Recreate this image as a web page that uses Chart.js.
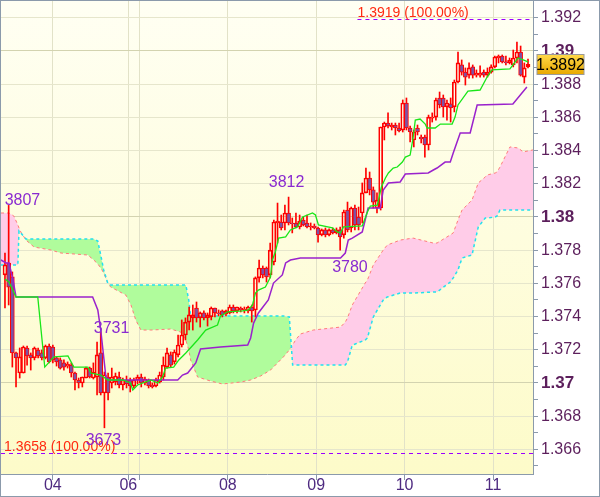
<!DOCTYPE html>
<html>
<head>
<meta charset="utf-8">
<script src="https://cdn.jsdelivr.net/npm/chart.js@4.4.1/dist/chart.umd.min.js"></script>
<style>
html, body { margin: 0; padding: 0; background: #fff; }
canvas { display: block; }
</style>
</head>
<body>
<canvas id="c" width="600" height="497"></canvas>
<script>
// hourly candles, index 0..142
var candleOpen = [1.37651,1.37723,1.37639,1.37181,1.3706,1.3706,1.37211,1.37169,1.37151,1.37199,
  1.37181,1.37151,1.37223,1.37217,1.37151,1.37139,1.37121,1.37102,1.37108,1.3706,
  1.37018,1.37,1.3703,1.3709,1.3703,1.37036,1.37181,1.3694,1.37036,1.37,
  1.37006,1.37036,1.36988,1.37018,1.37018,1.36982,1.37018,1.37036,1.37,1.37018,
  1.36988,1.36982,1.37006,1.37036,1.37096,1.37169,1.37127,1.37169,1.37229,1.37289,
  1.37367,1.37392,1.37452,1.37392,1.37422,1.37392,1.37398,1.37452,1.37422,1.37434,
  1.37416,1.37422,1.37458,1.37434,1.37452,1.3744,1.37434,1.37458,1.3744,1.37633,
  1.37693,1.37693,1.37651,1.37729,1.37964,1.3797,1.37964,1.38024,1.37964,1.37964,
  1.3794,1.37982,1.37964,1.3794,1.37946,1.37934,1.37892,1.37922,1.37892,1.37922,
  1.37904,1.37922,1.37892,1.38042,1.37934,1.38054,1.38,1.38024,1.38145,1.38235,
  1.38163,1.38054,1.38054,1.38542,1.38566,1.38542,1.38554,1.38536,1.38524,1.38687,
  1.38536,1.38464,1.38536,1.38482,1.38482,1.38434,1.38596,1.38602,1.38717,1.38717,
  1.38663,1.38681,1.38663,1.38813,1.38916,1.38873,1.38855,1.38904,1.38855,1.38855,
  1.38873,1.38855,1.38873,1.38904,1.38958,1.3897,1.38934,1.38928,1.38916,1.38958,
  1.38994,1.38843,1.38904];
var candleHigh = [1.37783,1.3807,1.37669,1.37187,1.37211,1.37223,1.37223,1.37181,1.37217,1.37211,
  1.37199,1.37229,1.37235,1.37229,1.37157,1.37151,1.37139,1.37127,1.37121,1.37066,
  1.3703,1.37036,1.37096,1.37096,1.37121,1.37247,1.3731,1.37066,1.3706,1.3709,
  1.3706,1.37066,1.3703,1.37042,1.3703,1.3703,1.37048,1.37054,1.37036,1.37024,
  1.37,1.3703,1.37066,1.37157,1.37211,1.37187,1.37199,1.37289,1.3738,1.37392,
  1.37458,1.3747,1.37488,1.37428,1.37434,1.37422,1.37458,1.37452,1.3744,1.3744,
  1.3744,1.3747,1.3747,1.37458,1.37458,1.37458,1.37464,1.3747,1.37639,1.37741,
  1.37705,1.37699,1.37843,1.37982,1.38084,1.38012,1.38072,1.3812,1.37994,1.38024,
  1.38012,1.38,1.38012,1.37964,1.37958,1.3794,1.37928,1.37934,1.37928,1.37934,
  1.37934,1.3794,1.38042,1.3809,1.3806,1.38072,1.3806,1.38205,1.38295,1.38271,
  1.38181,1.38145,1.38542,1.38572,1.38627,1.38566,1.38566,1.38566,1.38705,1.38717,
  1.38548,1.38524,1.38554,1.38494,1.38494,1.38614,1.38627,1.38717,1.38753,1.38735,
  1.38705,1.38717,1.38825,1.38994,1.38946,1.38898,1.38928,1.38916,1.38886,1.3891,
  1.38886,1.38898,1.38916,1.3897,1.38976,1.38976,1.3897,1.38958,1.39006,1.39054,
  1.3903,1.38928,1.38952];
var candleLow = [1.37452,1.3747,1.37096,1.36976,1.3703,1.3706,1.37108,1.37078,1.37139,1.37151,
  1.37139,1.37145,1.37121,1.37121,1.37102,1.37084,1.37078,1.3709,1.37036,1.36958,
  1.3697,1.36976,1.3703,1.3703,1.37024,1.36928,1.36928,1.3673,1.36898,1.3697,
  1.36988,1.3697,1.36958,1.3697,1.36946,1.3697,1.36994,1.36976,1.36988,1.3697,
  1.3697,1.36976,1.37,1.37018,1.3709,1.37096,1.37114,1.37157,1.37217,1.37259,
  1.37319,1.37319,1.37367,1.37337,1.3738,1.37343,1.3738,1.37398,1.37404,1.37398,
  1.37404,1.37416,1.37422,1.37422,1.37428,1.37422,1.37422,1.37367,1.37398,1.37608,
  1.37633,1.37608,1.37633,1.37711,1.37843,1.37922,1.37922,1.37952,1.37904,1.37934,
  1.37928,1.37946,1.37934,1.37922,1.37928,1.37849,1.37886,1.3788,1.37886,1.37898,
  1.37898,1.378,1.37873,1.3791,1.3791,1.37922,1.37922,1.37964,1.38145,1.38133,
  1.38054,1.38024,1.38042,1.38464,1.38536,1.38524,1.38494,1.38512,1.38512,1.38524,
  1.38452,1.38422,1.38494,1.38446,1.38361,1.38404,1.38572,1.38584,1.38657,1.38602,
  1.38584,1.38572,1.38633,1.38807,1.38855,1.38795,1.38837,1.38837,1.38843,1.38843,
  1.38843,1.38843,1.38867,1.38898,1.38928,1.38928,1.38916,1.38922,1.38904,1.38928,
  1.38849,1.38807,1.38898];
var candleClose = [1.37711,1.37578,1.37181,1.37151,1.37157,1.37217,1.37163,1.37151,1.37211,1.37163,
  1.37151,1.37223,1.37127,1.37139,1.37127,1.3709,1.37096,1.37114,1.3706,1.37018,
  1.37,1.37036,1.3709,1.37036,1.37066,1.37169,1.3694,1.37048,1.3694,1.37036,
  1.37042,1.36988,1.37018,1.36994,1.36982,1.37018,1.37036,1.37,1.37024,1.36982,
  1.36976,1.37018,1.37048,1.37108,1.37181,1.37108,1.37187,1.37229,1.37289,1.37367,
  1.3741,1.3741,1.37392,1.37422,1.37392,1.3741,1.37452,1.37422,1.37416,1.3741,
  1.37434,1.37458,1.37434,1.37458,1.3744,1.37446,1.37458,1.37434,1.37633,1.37693,
  1.37651,1.37639,1.378,1.3797,1.37976,1.37934,1.38024,1.37964,1.37958,1.3794,
  1.37976,1.37952,1.3794,1.37946,1.37934,1.37892,1.37922,1.37892,1.37922,1.37904,
  1.37922,1.3788,1.3803,1.37922,1.38054,1.37952,1.37952,1.38145,1.38235,1.38163,
  1.3809,1.38102,1.38542,1.38566,1.38548,1.38554,1.38536,1.38518,1.38687,1.38536,
  1.38512,1.38512,1.38512,1.3847,1.38434,1.38602,1.38602,1.38705,1.38675,1.38663,
  1.38687,1.38657,1.38813,1.38928,1.38873,1.38843,1.38898,1.38855,1.38867,1.38867,
  1.38855,1.38873,1.38904,1.38964,1.3897,1.38934,1.38928,1.38946,1.38958,1.38994,
  1.38855,1.38898,1.3892];

// tenkan (green) and kijun (purple), positions in candle index units
var tenkanX = [0,1.1,3.0,8.9,10.8,13.3,17.1,18.7,22.5,23.3,26.0,27.9,32.0,34.1,34.7,36.0,39.6,41.5,42.8,43.6,
  45.8,47.2,49.1,52.3,54.5,57.7,58.5,60.4,64.5,66.1,67.2,68.0,68.8,70.7,72.1,72.6,73.4,74.3,76.2,77.5,
  79.4,80.8,83.5,84.3,85.1,88.9,90.2,91.1,91.9,97.0,98.4,99.2,101.1,102.2,103.3,104.1,105.4,106.5,107.9,108.7,
  110.0,110.8,111.4,112.7,114.1,114.6,116.8,118.2,121.4,122.2,123.0,125.7,129.0,130.9,132.2,137.1,137.9,139.3,140.7,142.0];
var tenkanY = [1.37627,1.37608,1.37518,1.37518,1.37096,1.37157,1.37163,1.37096,1.37096,1.3706,1.37048,1.37018,1.37018,1.37,1.36958,1.36988,1.37018,1.37,1.37036,1.3709,
  1.37096,1.37139,1.37181,1.37259,1.37319,1.37349,1.37404,1.37428,1.37434,1.3744,1.3747,1.37542,1.3756,1.37578,1.37639,1.37741,1.37789,1.37873,1.3788,1.37922,
  1.3794,1.38,1.38024,1.38012,1.37952,1.37934,1.3791,1.37904,1.3794,1.37946,1.3803,1.38066,1.38072,1.38181,1.38235,1.38265,1.38295,1.38301,1.38331,1.38361,
  1.38373,1.38476,1.38584,1.3859,1.3856,1.38536,1.38536,1.3856,1.3856,1.38602,1.38675,1.38759,1.38765,1.38843,1.38886,1.38892,1.38916,1.38958,1.38946,1.38934];
var kijunX = [-1.1,0.3,1.1,2.2,3.0,23.8,25.2,26.0,27.4,28.2,46.9,48.2,49.6,51.8,53.1,58.5,65.9,66.7,67.5,68.8,
  71.5,72.9,75.3,76.2,77.5,80.2,91.1,92.4,93.2,94.3,97.0,98.6,101.9,102.7,104.1,107.3,108.7,114.9,116.3,117.3,
  119.5,120.9,121.7,123.6,126.3,128.2,137.9,141.7];
var kijunY = [1.37741,1.37723,1.37723,1.3762,1.37518,1.37518,1.3744,1.37319,1.37036,1.37018,1.37018,1.37048,1.3706,1.37121,1.37205,1.37217,1.37229,1.37271,1.37361,1.37422,
  1.375,1.37602,1.37651,1.37723,1.37741,1.37753,1.37753,1.37783,1.37861,1.37873,1.3791,1.38054,1.38054,1.38163,1.38205,1.38211,1.38259,1.38265,1.38283,1.38295,
  1.38331,1.38331,1.38386,1.38506,1.38506,1.38675,1.38681,1.38783];

// cloud: span A (red dashed) and span B (cyan dashed)
var cloudX = [-1.08,1.1,2.4,3.5,3.8,4.3,5.7,7.9,12.5,15.2,22.5,24.1,25.2,26.0,26.8,27.9,28.7,32.8,34.2,35.5,
  36.9,39.6,45.0,47.7,49.1,49.9,50.4,52.3,55.8,59.1,64.0,66.7,69.4,72.1,75.6,77.2,78.1,78.9,80.2,83.7,
  91.1,92.4,93.0,94.3,95.1,97.8,98.4,100.0,102.7,103.8,107.3,110.8,116.3,117.3,120.9,121.7,123.0,124.1,126.8,128.5,
  130.4,130.9,133.1,133.6,134.4,137.1,139.3,140.7,143.36];
var spanA = [1.38024,1.38024,1.38006,1.37952,1.37934,1.3791,1.37861,1.37819,1.37801,1.37783,1.37771,1.37741,1.37717,1.37693,1.37663,1.37602,1.37578,1.3753,1.3747,1.3738,
  1.37319,1.37319,1.37325,1.37307,1.37259,1.37199,1.37139,1.37036,1.37012,1.36994,1.37006,1.37018,1.37042,1.37078,1.37157,1.37199,1.37229,1.37259,1.37295,1.37319,
  1.37337,1.37367,1.37392,1.3747,1.375,1.37602,1.3762,1.37711,1.37801,1.37831,1.37861,1.37873,1.37843,1.37843,1.37892,1.37904,1.37982,1.38042,1.38102,1.38205,
  1.38241,1.38253,1.38265,1.38271,1.38301,1.38422,1.38416,1.38392,1.38404];
var spanB = [1.37711,1.37711,1.37711,1.37711,1.37916,1.37904,1.37867,1.37867,1.37867,1.37867,1.37867,1.37867,1.37855,1.37771,1.37681,1.37602,1.3759,1.3759,1.3759,1.3759,
  1.3759,1.3759,1.3759,1.3759,1.3759,1.375,1.37404,1.37404,1.37404,1.37404,1.37404,1.37404,1.37404,1.37404,1.37404,1.37398,1.37108,1.37108,1.37108,1.37108,
  1.37108,1.37108,1.37127,1.37229,1.37235,1.37259,1.37271,1.37398,1.375,1.37518,1.37542,1.37542,1.37548,1.37548,1.37608,1.37633,1.37681,1.37753,1.37771,1.3794,
  1.37994,1.37994,1.38,1.38006,1.38042,1.38042,1.38042,1.38042,1.38042];

// swing labels
var markIdx = [1, 77, 26, 91, 27];
var markVal = [1.3807, 1.3812, 1.3731, 1.3780, 1.3673];
var markText = ['3807', '3812', '3731', '3780', '3673'];

// projection levels
var levelVal = [1.3919, 1.3658];
var levelFrom = [95.7, -1.08];
var levelText = ['1.3919 (100.00%)', '1.3658 (100.00%)'];

// axes
var xTickPos = [13, 33.5, 36.5, 60.5, 84.5, 108.5, 132.5];
var xTickLabels = ['04', '06', '', '08', '09', '10', '11'];
var yTickVals = [1.365,1.366,1.367,1.368,1.369,1.370,1.371,1.372,1.373,1.374,1.375,1.376,1.377,1.378,1.379,
  1.380,1.381,1.382,1.383,1.384,1.385,1.386,1.387,1.388,1.389,1.390,1.391,1.392];
var xMin = -1.08, xMax = 143.36, yMin = 1.364518, yMax = 1.393012;

Chart.defaults.font.family = '"Liberation Sans", Arial, sans-serif';

var bodies = candleOpen.map(function(o, i) { return {x: i, y: [o, candleClose[i]]}; });
var upWicks = candleOpen.map(function(o, i) { return {x: i, y: [Math.max(o, candleClose[i]), candleHigh[i]]}; });
var downWicks = candleOpen.map(function(o, i) { return {x: i, y: [candleLow[i], Math.min(o, candleClose[i])]}; });
function pts(xs, ys) { return xs.map(function(x, i) { return {x: x, y: ys[i]}; }); }
function milli(c) { return (c && c.tick) ? Math.round(c.tick.value * 1000) : 1; }

var bgPlugin = {
  id: 'bg',
  beforeDraw: function(chart) {
    var c = chart.ctx, a = chart.chartArea;
    c.save();
    c.fillStyle = '#ffffff';
    c.fillRect(0, 0, chart.width, chart.height);
    var g = c.createLinearGradient(0, a.top, 0, a.bottom);
    g.addColorStop(0, '#fffff3');
    g.addColorStop(1, '#fdfbc9');
    c.fillStyle = g;
    c.fillRect(a.left, a.top, a.right - a.left, a.bottom - a.top);
    c.restore();
  },
  afterDraw: function(chart) {
    var c = chart.ctx;
    c.save();
    c.strokeStyle = '#8b9aab';
    c.lineWidth = 1;
    c.strokeRect(0.5, 0.5, chart.width - 1, chart.height - 1);
    c.restore();
  }
};

var levelPlugin = {
  id: 'levels',
  afterDatasetsDraw: function(chart) {
    var c = chart.ctx, a = chart.chartArea, xs = chart.scales.x, ys = chart.scales.y;
    c.save();
    for (var i = 0; i < levelVal.length; i++) {
      var y = Math.round(ys.getPixelForValue(levelVal[i])) + 0.5;
      var x0 = Math.max(a.left, xs.getPixelForValue(levelFrom[i]));
      c.strokeStyle = '#9b00ff';
      c.lineWidth = 1;
      c.setLineDash([4, 4]);
      c.beginPath(); c.moveTo(x0, y); c.lineTo(a.right, y); c.stroke();
      c.setLineDash([]);
      c.fillStyle = '#ff2a10';
      c.font = '14px "Liberation Sans", Arial, sans-serif';
      c.textAlign = 'left';
      c.textBaseline = 'alphabetic';
      c.fillText(levelText[i], Math.max(x0, a.left + 3), y - 3);
    }
    // swing labels
    var style = [
      {dx: -4, dy: 0, align: 'left'},
      {dx: -2, dy: -10, align: 'center'},
      {dx: -7, dy: 1, align: 'left'},
      {dx: -8, dy: 22, align: 'left'},
      {dx: -1, dy: 17, align: 'center'}
    ];
    c.font = '16px "Liberation Sans", Arial, sans-serif';
    c.fillStyle = '#8a2bd0';
    for (var k = 0; k < markIdx.length; k++) {
      var px = xs.getPixelForValue(markIdx[k]), py = ys.getPixelForValue(markVal[k]);
      c.textAlign = style[k].align;
      c.fillText(markText[k], px + style[k].dx, py + style[k].dy);
    }
    c.restore();
  }
};

var pricePlugin = {
  id: 'price',
  afterDraw: function(chart) {
    var c = chart.ctx, a = chart.chartArea, ys = chart.scales.y;
    var last = candleClose[candleClose.length - 1];
    var y = ys.getPixelForValue(last);
    var x = a.right + 4, w = 47, h = 20, top = Math.round(y - h / 2) + 0.5;
    c.save();
    var g = c.createLinearGradient(0, top, 0, top + h);
    g.addColorStop(0, '#ffd84a');
    g.addColorStop(1, '#e8a800');
    c.fillStyle = g;
    c.fillRect(x, top, w, h);
    c.strokeStyle = '#9a9a9a';
    c.lineWidth = 1;
    c.strokeRect(x, top, w, h);
    c.fillStyle = '#000';
    c.font = '16px "Liberation Sans", Arial, sans-serif';
    c.textAlign = 'center';
    c.textBaseline = 'middle';
    c.fillText(last.toFixed(4), x + w / 2, top + h / 2 + 1);
    c.restore();
  }
};

new Chart(document.getElementById('c'), {
  type: 'bar',
  data: {
    datasets: [
      {
        type: 'line', data: pts(cloudX, spanA), order: 10,
        borderColor: '#ff7b7b', borderWidth: 1, borderDash: [3, 3], pointRadius: 0, tension: 0,
        fill: {target: '+1', above: '#ffcce8', below: '#b0fc9c'}
      },
      {
        type: 'line', data: pts(cloudX, spanB), order: 9,
        borderColor: '#22e0f0', borderWidth: 1.5, borderDash: [3, 3], pointRadius: 0, tension: 0, fill: false
      },
      {
        data: upWicks, order: 6, grouped: false, barThickness: 1,
        backgroundColor: '#ff0000', borderWidth: 0
      },
      {
        data: downWicks, order: 6, grouped: false, barThickness: 1,
        backgroundColor: '#ff0000', borderWidth: 0
      },
      {
        data: bodies, order: 5, grouped: false, barThickness: 4, minBarLength: 1,
        borderColor: '#ff0000', borderWidth: 1, borderSkipped: false,
        backgroundColor: function(ctx) {
          var i = ctx.dataIndex;
          return candleClose[i] >= candleOpen[i] ? 'rgba(0,0,0,0)' : '#7d52a4';
        }
      },
      {
        type: 'line', data: pts(kijunX, kijunY), order: 2,
        borderColor: '#9a22cc', borderWidth: 1.5, pointRadius: 0, tension: 0, fill: false
      },
      {
        type: 'line', data: pts(tenkanX, tenkanY), order: 1,
        borderColor: '#19e619', borderWidth: 1.3, pointRadius: 0, tension: 0, fill: false
      }
    ]
  },
  options: {
    responsive: false,
    animation: false,
    devicePixelRatio: 1,
    layout: {padding: {left: 1, top: 1, right: 1, bottom: 1}},
    plugins: {legend: {display: false}, tooltip: {enabled: false}},
    scales: {
      x: {
        type: 'linear', min: xMin, max: xMax, offset: false,
        grid: {color: '#e2e2c8', tickColor: '#8b9aab', tickLength: 6, offset: false},
        border: {color: '#8b9aab'},
        ticks: {
          autoSkip: false, maxRotation: 0, padding: -4, color: '#4e2a80', font: {size: 16},
          callback: function(v, i) { return xTickLabels[i]; }
        },
        afterBuildTicks: function(s) { s.ticks = xTickPos.map(function(v) { return {value: v}; }); },
        afterFit: function(s) { s.height = 22; s.paddingLeft = 0; s.paddingRight = 0; }
      },
      y: {
        type: 'linear', position: 'right', min: yMin, max: yMax,
        grid: {
          tickColor: '#8b9aab', tickLength: 5,
          color: function(c) {
            var m = milli(c);
            if (m % 2) return 'rgba(0,0,0,0)';
            return m % 10 === 0 ? '#d3d3b0' : '#e6e6cc';
          }
        },
        border: {color: '#8b9aab'},
        ticks: {
          autoSkip: false, padding: 3, color: '#5c1f5c',
          font: function(c) {
            var m = milli(c);
            return m % 10 === 0 ? {size: 17, weight: 'bold'} : {size: 16};
          },
          callback: function(v) {
            var m = Math.round(v * 1000);
            return m % 2 ? '' : String(m / 1000);
          }
        },
        afterBuildTicks: function(s) { s.ticks = yTickVals.map(function(v) { return {value: v}; }); },
        afterFit: function(s) { s.width = 66; s.paddingTop = 0; s.paddingBottom = 0; }
      }
    }
  },
  plugins: [bgPlugin, levelPlugin, pricePlugin]
});
</script>
</body>
</html>
